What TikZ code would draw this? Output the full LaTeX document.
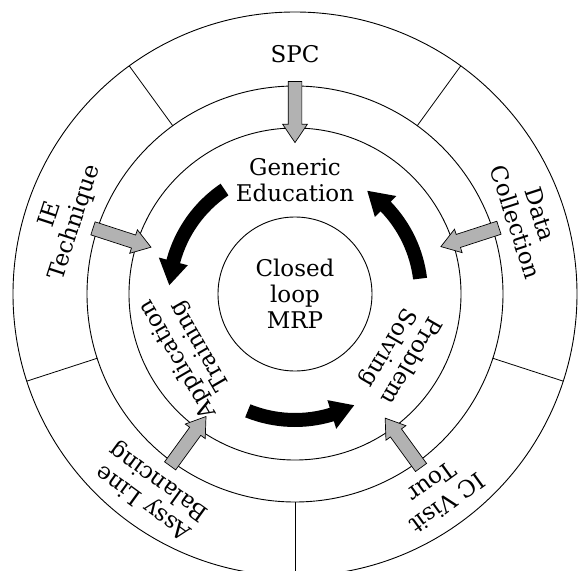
\documentclass[tikz,border=0pt]{standalone}
\usepackage{fontspec}
\setmainfont{DejaVu Serif}
\usetikzlibrary{shapes.arrows}

\begin{document}
\begin{tikzpicture}[x=1pt,y=1pt,
  ring/.style={draw=black, line width=0.9pt},
  divider/.style={draw=black, line width=0.8pt},
  lbl/.style={align=center, font=\fontsize{23}{26}\selectfont, inner sep=0pt},
  feed/.style={single arrow, draw=black, line width=0.7pt, fill=gray!60,
    minimum height=61pt, minimum width=0pt, inner xsep=0pt, inner ysep=6.5pt,
    single arrow head extend=5.5pt, single arrow tip angle=68},
  cyclearrow/.style={fill=black}
]
\useasboundingbox (-295,-276) rectangle (285,294);
\clip (-295,-276) rectangle (285,294);

% concentric rings
\draw[ring] (0,0) circle (282);
\draw[ring] (0,0) circle (208);
\draw[ring] (0,0) circle (166);
\node[circle, draw=black, line width=0.9pt, minimum size=154pt, lbl] (core) at (0,0) {Closed\\loop\\MRP};

% segment dividers of the outer ring
\foreach \a in {54,126,198,270,342}
  \draw[divider] (\a:208) -- (\a:282);

% outer ring labels
\node[lbl] (spc) at (90:240) {SPC};
\node[lbl, rotate=72] (ie) at (162:244) {IE\\Technique};
\node[lbl, rotate=144] (assy) at (234:244) {Assy Line\\Balancing};
\node[lbl, rotate=216] (ic) at (306:246) {IC Visit\\Tour};
\node[lbl, rotate=-72] (data) at (18:245) {Data\\Collection};

% grey feed-in arrows
\node[feed, rotate=270] (fspc) at (90:187) {};
\node[feed, rotate=342] (fie) at (162:187) {};
\node[feed, rotate=54] (fassy) at (234:187) {};
\node[feed, rotate=126] (fic) at (306:189) {};
\node[feed, rotate=198] (fdata) at (18:189) {};

% inner cycle labels
\node[lbl] (gen) at (90:114) {Generic\\Education};
\node[lbl, rotate=120] (app) at (209:121) {Application\\Training};
\node[lbl, rotate=240] (prob) at (330:120) {Problem\\Solving};

% black cycle arrows
\foreach \s/\e in {124/176, 248/298, 7/55}{
  \pgfmathsetmacro{\h}{\e-11}
  \fill[cyclearrow] (\s:119) arc[start angle=\s, end angle=\h, radius=119]
    -- (\h:111) -- (\e:126) -- (\h:141) -- (\h:133)
    arc[start angle=\h, end angle=\s, radius=133] -- cycle;
}
\end{tikzpicture}
\end{document}
